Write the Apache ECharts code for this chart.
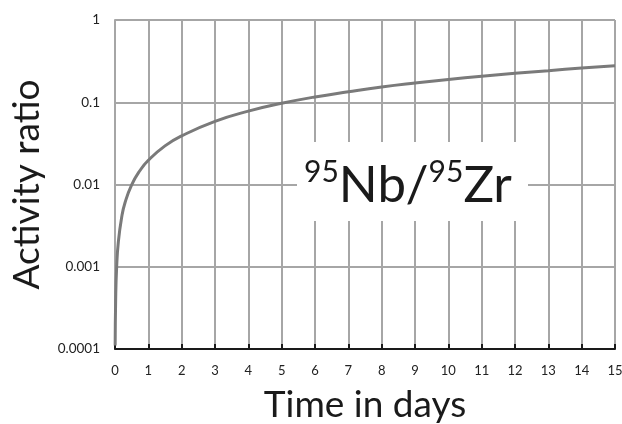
<!DOCTYPE html>
<html>
<head>
<meta charset="utf-8">
<script src="https://cdn.jsdelivr.net/npm/echarts@6/dist/echarts.min.js"></script>
<style>html,body{margin:0;padding:0;background:#fff}#c{width:622px;height:424px}</style>
</head>
<body>
<div id="c"></div>
<script>
var days = [0.005, 0.02, 0.05, 0.1, 0.2, 0.3, 0.5, 0.75, 1, 1.5, 2, 3, 4, 5, 6, 7, 8, 9, 10, 11, 12, 13, 14, 15];
var ratio = [0.00011, 0.0004, 0.001, 0.002, 0.004, 0.006, 0.0099, 0.0148, 0.0197, 0.0295, 0.039, 0.0586, 0.078, 0.097, 0.116, 0.134, 0.153, 0.171, 0.189, 0.207, 0.225, 0.242, 0.26, 0.277];
var xTicks = [0,1,2,3,4,5,6,7,8,9,10,11,12,13,14,15];
var yTicks = ['0.0001','0.001','0.01','0.1','1'];
var xTitle = 'Time in days';
var yTitle = 'Activity ratio';
var labelParts = ['95', 'Nb/', '95', 'Zr'];

var chart = echarts.init(document.getElementById('c'), null, {renderer:'canvas'});
var FONT = 'Lato, "Open Sans", sans-serif';
chart.setOption({
  animation: false,
  backgroundColor: '#fff',
  grid: {left: 115, right: 7, top: 20, bottom: 75, containLabel: false, outerBoundsMode: 'none'},
  xAxis: {
    type: 'value', min: 0, max: 15, interval: 1,
    name: xTitle, nameLocation: 'middle', nameGap: 38,
    nameTextStyle: {fontSize: 37, color: '#1a1a1a', fontFamily: FONT},
    axisLine: {show: true, lineStyle: {color: '#1a1a1a', width: 2}},
    axisTick: {show: true, inside: true, length: 5, lineStyle: {color: '#1a1a1a', width: 2}},
    axisLabel: {fontSize: 13, color: '#222', margin: 15, fontFamily: FONT,
      formatter: function(v){ return xTicks.indexOf(v) >= 0 ? String(v) : ''; }},
    splitLine: {show: true, lineStyle: {color: '#a6a6a6', width: 2}}
  },
  yAxis: {
    type: 'log', logBase: 10, min: 0.0001, max: 1,
    name: yTitle, nameLocation: 'middle', nameGap: 69, nameRotate: 90,
    nameTextStyle: {fontSize: 37, color: '#1a1a1a', fontFamily: FONT},
    axisLine: {show: true, lineStyle: {color: '#a6a6a6', width: 2}},
    axisTick: {show: false},
    axisLabel: {fontSize: 13.5, color: '#222', margin: 15, fontFamily: FONT,
      formatter: function(v){
        var s = String(Number(v.toPrecision(6)));
        for (var i = 0; i < yTicks.length; i++) { if (Number(yTicks[i]) === Number(s)) return yTicks[i]; }
        return s;
      }},
    splitLine: {show: true, lineStyle: {color: '#a6a6a6', width: 2}}
  },
  series: [{
    type: 'line',
    data: days.map(function(d, i){ return [d, ratio[i]]; }),
    smooth: true,
    showSymbol: false,
    lineStyle: {color: '#7a7a7a', width: 3},
    z: 5
  }],
  graphic: [
    {type: 'rect', z: 100, shape: {x: 297, y: 142, width: 231, height: 79}, style: {fill: '#fff'}},
    {type: 'text', z: 101, x: 408, y: 184,
      style: {
        text: '{s|' + labelParts[0] + '}{m|' + labelParts[1] + '}{s|' + labelParts[2] + '}{m|' + labelParts[3] + '}',
        align: 'center', verticalAlign: 'middle',
        fontFamily: FONT,
        rich: {
          s: {fontSize: 30, fill: '#1a1a1a', fontFamily: FONT, verticalAlign: 'top', lineHeight: 54},
          m: {fontSize: 51, fill: '#1a1a1a', fontFamily: FONT, verticalAlign: 'bottom', lineHeight: 54}
        }
      }
    }
  ]
});
</script>
</body>
</html>
